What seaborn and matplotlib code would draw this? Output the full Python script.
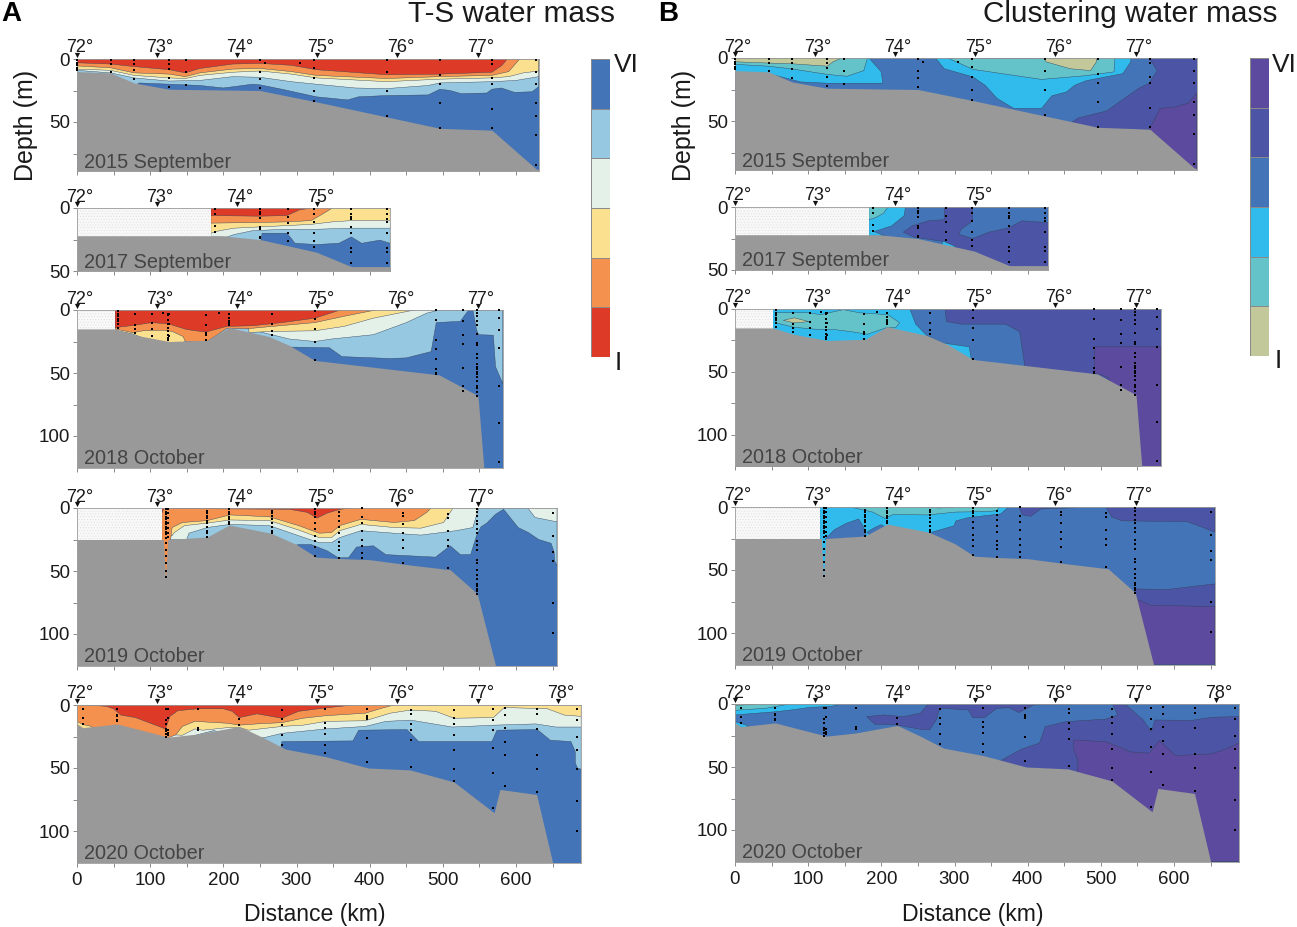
import numpy as np
import pandas as pd
import matplotlib
matplotlib.use('Agg')
import matplotlib.pyplot as plt
from matplotlib.colors import ListedColormap
import seaborn as sns

sns.set_theme(style='ticks')
plt.rcParams['font.family'] = ['Liberation Sans', 'DejaVu Sans']
plt.rcParams['hatch.linewidth'] = 0.3

W, H = 1297, 927

# -------------------------
# colours, I -> VI
# -------------------------
ts_colors = ['#DD3B28', '#F4914F', '#FBE08F', '#E4F1E8', '#96C8E2', '#4374B7']
cl_colors = ['#C2C89A', '#63C3C9', '#30BBEC', '#4374B7', '#4C55A5', '#5C4A9E']
seabed = '#999999'
class_levels = [6, 5, 4, 3, 2, 1]

lat_names = ['72°', '73°', '74°', '75°', '76°', '77°', '78°']
lat_km = [0, 109.5, 219, 328.5, 438, 547.5, 657]
months = ['2015 September', '2017 September', '2018 October', '2019 October', '2020 October']
xmax_km = [631, 428, 582, 656, 689]
ymax_m = [89, 50, 125, 125, 125]
lat_shown = [6, 4, 6, 6, 7]
no_data_km = [0, 183, 52, 116, 0]

# -------------------------
# seabed (km, m)
# -------------------------
bath15 = [(0, 10), (46, 11), (78, 19), (126, 24), (250, 25), (327, 34), (496, 55), (567, 56.5), (627, 87), (631, 88)]
bath17 = [(0, 22), (196, 22), (250, 25), (327, 35), (375, 46.5), (428, 46.5)]
bath18 = [(0, 15), (52, 15), (80, 20), (126, 25), (178, 24), (208, 14), (262, 21), (290, 28), (325, 40), (495, 51.5), (548, 68), (556, 125)]
bath19 = [(0, 25), (118, 25), (121, 56), (124, 25), (178, 23), (208, 13.5), (265, 20), (300, 29), (327, 39), (355, 40), (400, 41), (452, 45), (510, 49), (547, 68), (572, 125)]
bath20 = [(0, 15), (8, 18), (55, 15), (125, 25.5), (165, 23), (222, 17), (255, 26), (285, 35), (340, 41), (398, 50), (455, 51.5), (515, 61), (570, 85.5), (578, 67), (628, 71), (650, 125)]

# -------------------------
# CTD stations (km, depths)
# -------------------------
st15 = [(0, [1, 3, 5, 7, 9]), (46, [1, 4, 10]), (78, [1, 4, 9, 16]), (126, [1, 4, 8, 15, 22]), (149, [1, 10, 21]),
        (250, [1, 10, 16, 23]), (257, [3]), (305, [3]), (324, [1, 7, 15, 25, 33]), (423, [1, 10, 25, 45]),
        (496, [1, 13, 20, 35, 55]), (567, [1, 4, 15, 20, 40, 55]), (627, [1, 10, 20, 35, 45, 60, 84])]
st17 = [(188, [1, 5, 14, 19]), (250, [1, 3, 5, 8, 15, 17, 23, 24]), (288, [1, 7, 12, 20, 26]), (324, [1, 5, 11, 20, 26, 31]),
        (375, [1, 5, 7, 9, 15, 20, 32, 35, 44]), (423, [1, 5, 9, 11, 20, 32, 35, 44])]
st18 = [(56, [1, 3, 5, 7, 9, 11, 14]), (79, [3, 12, 15, 18]), (102, [3, 10, 15, 21]), (118, [2]),
        (124, [3, 4, 8, 11, 14, 17, 20, 22, 24]), (126, [3, 11, 21]), (176, [4, 12, 18, 20, 24]), (194, [2]),
        (208, [3, 6, 9, 10, 11, 12]), (266, [3, 11, 17, 20]), (325, [1, 7, 15, 25, 40]),
        (490, [0, 8, 24, 31, 39, 47, 50, 51]), (528, [0, 9, 20, 27, 46, 60, 64]),
        (547, [0, 2, 5, 9, 12, 19, 26, 28, 35, 38, 43, 45, 47, 49, 51, 53, 56, 60, 62, 65, 68]),
        (577, [0, 6, 16, 30, 60, 90, 121])]
st19 = [(122, [1, 3, 5, 7, 9, 11, 13, 15, 17, 19, 21, 24, 28, 33, 38, 44, 50, 55]), (124, [1, 4, 8, 12, 16, 20, 23]),
        (178, [2, 4, 6, 8, 10, 12, 15, 18, 20, 23]), (208, [1, 3, 5, 7, 9, 11, 13]), (267, [2, 4, 6, 9, 12, 15, 18, 20]),
        (325, [1, 3, 5, 7, 12, 17, 22, 26, 31, 38]), (358, [3, 6, 10, 15, 20, 27, 30, 33, 40]),
        (390, [0, 7, 12, 18, 25, 30, 36, 40]), (445, [4, 6, 13, 20, 25, 32, 44]), (507, [5, 8, 18, 25, 30, 48]),
        (547, [1, 3, 6, 10, 13, 17, 20, 26, 29, 33, 41, 44, 49, 53, 56, 60, 62, 64, 66, 68]),
        (650, [4, 22, 35, 42, 75, 99])]
st20 = [(8, [3, 10, 15]), (55, [3, 8, 9, 12, 13]), (122, [3, 12, 15, 19, 20, 21, 23, 25]), (125, [3, 10, 20, 22, 24]),
        (165, [3, 18, 20]), (222, [11, 16]), (280, [4, 11, 16, 24, 32]), (339, [3, 14, 18, 23, 32, 38]),
        (397, [3, 9, 10, 11, 26, 45]), (456, [4, 7, 15, 20, 28, 49]), (515, [4, 10, 15, 24, 36, 51, 60]),
        (569, [3, 12, 20, 34, 54, 82]), (585, [2, 8, 18, 29, 40, 64]), (628, [3, 7, 19, 40, 51, 69]),
        (684, [3, 12, 25, 36, 51, 76, 100])]

# -------------------------
# T-S water mass, lower limit of each class (km, m)
# -------------------------
ts15_v = [(0, 25), (70, 25), (85, 19), (126, 20), (168, 21), (200, 23), (240, 20), (250, 20.5), (280, 24), (327, 30), (370, 32.5), (385, 30), (423, 29), (480, 28.5), (496, 24), (510, 25), (525, 27.5), (560, 27), (567, 24), (580, 23), (598, 26.5), (622, 26), (631, 22)]
ts15_iv = [(0, 9), (46, 11), (78, 15), (126, 17.5), (168, 17), (213, 14), (250, 14.5), (293, 18), (327, 20), (380, 23), (423, 23.5), (480, 21), (496, 19), (567, 18), (600, 17), (631, 14)]
ts15_iii = [(0, 8), (46, 9), (78, 13), (126, 15), (148, 15.5), (168, 13), (213, 10.5), (250, 9.5), (293, 12), (327, 15), (423, 18), (496, 16), (567, 15), (590, 14), (610, 11), (631, 9.5)]
ts15_ii = [(0, 5.5), (46, 7), (78, 11), (126, 12), (148, 14), (168, 11), (213, 8), (250, 7.5), (293, 10), (327, 13), (423, 15.5), (496, 14), (567, 13), (590, 10), (605, 0)]
ts15_i = [(0, 3), (46, 4), (78, 6), (126, 8.5), (148, 11), (168, 7.5), (213, 4), (250, 3.5), (293, 5), (327, 8.5), (423, 12.5), (496, 12), (567, 10.5), (581, 5), (588, 0)]

ts17_v = [(183, 30), (250, 30), (253, 20), (287, 20), (298, 28), (327, 29), (358, 28), (375, 23), (389, 28), (414, 25.5), (428, 28)]
ts17_iv = [(183, 23), (205, 23), (215, 21), (240, 18), (280, 17), (320, 17), (375, 16), (428, 16)]
ts17_iii = [(183, 20), (195, 18), (215, 16), (250, 15), (320, 13), (349, 11), (375, 10), (428, 10)]
ts17_ii = [(183, 12), (250, 11.5), (287, 11), (320, 10), (335, 5), (349, 0)]
ts17_i = [(183, 6), (250, 6.5), (287, 6), (304, 1.5), (320, 0)]

ts18_v = [(52, 40), (280, 40), (290, 29.4), (345, 30), (362, 37), (428, 38.5), (450, 38), (484, 33), (491, 10), (524, 9), (532, 2.5), (536, 0), (541, 0), (546, 15.6), (549, 19.6), (569, 20), (572, 45), (582, 58.5)]
ts18_iv = [(52, 14), (230, 14), (234, 15), (262, 19), (290, 23), (325, 25), (348, 23), (405, 19.6), (450, 10), (478, 2.5), (495, 0)]
ts18_iii = [(52, 16), (76, 19), (126, 30), (148, 25), (150, 5), (234, 5), (235, 17.8), (269, 17), (325, 16.5), (365, 13), (405, 6.5), (461, 0)]
ts18_ii = [(52, 15), (76, 18), (90, 16.5), (118, 16), (130, 17), (145, 21), (148, 25), (178, 25), (205, 14.5), (230, 15), (258, 13.5), (325, 10), (365, 5), (408, 0)]
ts18_i = [(52, 14), (80, 12), (102, 10), (125, 11), (150, 15.5), (176, 17.5), (205, 13), (240, 12.5), (280, 10), (325, 6.5), (360, 0)]

ts19_v = [(116, 30), (295, 30), (303, 29), (320, 29), (342, 34), (357, 39.5), (371, 39.5), (382, 31), (405, 30), (422, 37), (490, 39), (510, 30), (524, 37), (538, 37), (546, 22), (552, 15), (560, 12), (572, 5), (583, 1), (603, 15.5), (617, 19.5), (631, 25), (648, 28), (652, 35), (653, 42), (656, 46)]
ts19_iv = [(116, 25), (150, 25), (153, 20), (178, 15.5), (209, 13), (263, 14), (303, 22), (331, 27.5), (348, 27.5), (359, 23.5), (388, 18), (433, 20), (470, 21.5), (518, 18), (541, 15.5), (549, 0), (616, 0), (626, 7.5), (656, 11)]
ts19_iii = [(116, 19), (130, 22), (133, 19.5), (147, 14), (178, 12), (209, 9.5), (263, 10), (303, 17.5), (331, 23.5), (348, 23.5), (359, 18), (388, 13), (433, 15.5), (470, 16), (501, 11.5), (510, 3.5), (514, 0)]
ts19_ii = [(116, 60), (126, 60), (128, 25), (130, 15.5), (144, 11.5), (178, 10), (209, 5.5), (263, 7), (303, 14), (331, 20), (348, 19.5), (359, 14), (388, 9), (433, 11.5), (461, 10), (478, 3.5), (484, 0)]
ts19_i = [(116, 4), (119, 0), (150, 0.5), (290, 1), (315, 3.5), (328, 8), (342, 4), (360, 1), (377, 0)]

ts20_v = [(0, 40), (255, 40), (272, 33), (278, 36), (280, 29), (377, 28.5), (385, 20), (451, 19.5), (467, 29), (567, 29), (574, 20), (629, 19.5), (647, 28), (675, 29), (681, 37), (681, 46), (684, 50), (689, 51)]
ts20_iv = [(0, 30), (160, 30), (162, 24), (172, 22.5), (187, 20.3), (222, 25), (255, 26), (280, 22.5), (340, 19), (394, 17), (422, 13), (456, 12), (513, 17.5), (570, 16), (627, 15), (655, 17.5), (689, 17.5)]
ts20_iii = [(0, 20), (144, 24), (161, 19), (172, 20), (205, 18), (222, 18), (235, 20), (280, 17), (309, 16), (340, 13), (394, 12.5), (428, 6.5), (456, 4), (490, 5), (515, 10.5), (569, 10), (584, 2), (643, 3), (666, 8), (689, 9)]
ts20_ii = [(0, 13), (8, 15.5), (20, 17), (30, 25), (125, 26), (135, 23.7), (144, 17), (161, 13), (206, 14.5), (222, 16), (246, 15), (280, 14), (309, 10.5), (340, 8.5), (394, 6.5), (417, 2.5), (433, 0)]
ts20_i = [(11, 0), (40, 1), (50, 3), (60, 8), (80, 10), (121, 19), (127, 9), (138, 4.5), (165, 3), (200, 3), (212, 5), (222, 10), (246, 7), (280, 10.5), (303, 5), (337, 2.5), (377, 0)]

# -------------------------
# Clustering water mass, closed regions (km, m)
# -------------------------
cl15_vi = [(566, 56.5), (576, 46), (581, 40), (600, 39), (619, 36), (631, 28), (631, 90), (566, 90)]
cl15_iv = [(0, 0), (566, 0), (577, 10), (566, 20), (552, 24), (525, 35), (508, 42), (469, 47.6), (458, 52), (0, 52)]
cl15_iii_a = [(0, 0), (183, 0), (200, 11), (202, 20), (176, 20), (126, 20), (90, 19), (43, 12), (0, 12)]
cl15_iii_b = [(274, 0), (286, 8.5), (325, 15), (342, 21.7), (358, 32), (381, 40), (419, 40), (433, 30), (453, 27), (464, 21.7), (480, 18), (530, 12.4), (541, 3), (541, 0)]
cl15_ii_a = [(0, 0), (181, 0), (176, 10), (153, 14.5), (126, 13), (76, 8.5), (45, 6.5), (0, 5)]
cl15_ii_b = [(291, 0), (325, 9), (419, 17), (480, 14), (518, 11), (519, 0)]
cl15_i_a = [(0, 0), (146, 0), (134, 3), (126, 6.5), (76, 4.5), (45, 4), (0, 3)]
cl15_i_b = [(325, 0.5), (422, 0), (425, 3), (458, 8.5), (486, 10), (494, 3), (494, 0)]

cl17_iv_a = [(183, 0), (286, 0), (286, 10), (264, 11), (242, 15), (230, 20), (245, 24), (281, 27), (300, 32), (300, 40), (183, 40)]
cl17_iv_b = [(324, 0), (325, 11), (309, 17.7), (306, 21.7), (325, 25), (347, 20), (375, 16.4), (392, 11), (429, 12.4), (429, 0)]
cl17_iii_a = [(183, 0), (233, 0), (231, 7), (214, 15), (190, 19.5), (205, 23), (183, 23)]
cl17_iii_b = [(284, 27), (300, 31), (300, 36), (281, 34)]
cl17_ii = [(183, 0), (209, 0), (203, 5), (192, 8.5), (183, 10)]

cl18_vi = [(491, 30), (582, 30), (582, 125), (540, 125), (540, 66), (511, 60), (511, 54.7), (500, 52), (491, 51)]
cl18_iv = [(239, 0), (287, 0), (289, 10), (309, 12), (370, 12), (389, 18), (396, 45), (396, 60), (239, 60)]
cl18_iii = [(0, 0), (239, 0), (247, 12), (262, 21), (284, 27), (320, 30), (323, 40), (323, 60), (0, 60)]
cl18_ii = [(56, 3), (101, 3), (117, 4.5), (148, 0.5), (170, 3), (209, 4.5), (225, 11), (220, 14.5), (206, 15), (181, 20), (159, 18), (137, 16.4), (109, 16), (81, 14.5), (56, 11)]
cl18_i = [(66, 9), (81, 7), (101, 10), (81, 11)]

cl19_vi = [(548, 73), (568, 78), (656, 79), (656, 125), (548, 125)]
cl19_v_a = [(546, 65), (590, 65.5), (656, 61), (656, 80), (546, 80)]
cl19_v_b = [(507, 0), (515, 8), (529, 11), (618, 11.6), (634, 15), (656, 20), (656, 0)]
cl19_v_c = [(388, 0), (393, 6.3), (404, 7.4), (418, 1.6), (468, 0.5), (468, 0)]
cl19_iii = [(116, 0), (374, 0), (363, 5.5), (319, 8.4), (302, 11), (299, 15), (269, 20), (268, 30), (116, 60)]
cl19_iv_a = [(124, 25), (136, 18), (152, 13), (169, 9.5), (175, 15), (178, 20), (180, 24), (124, 26)]
cl19_iv_b = [(180, 20), (192, 16), (200, 14), (205, 16), (190, 25)]
cl19_ii = [(158, 0), (188, 4), (205, 9), (216, 6), (263, 6.3), (302, 4), (341, 3.7), (357, 3), (362, 0)]
cl19_i = [(252, 0), (280, 0.8), (300, 0)]

cl20_vi = [(463, 28.5), (507, 30), (529, 35), (540, 38), (566, 39), (580, 29), (602, 41), (652, 39.5), (674, 35), (689, 31), (689, 125), (460, 125), (469, 45.6), (463, 36)]
cl20_v_a = [(363, 45), (391, 36), (416, 31), (424, 18), (452, 14), (507, 12), (523, 8.7), (516, 0), (533, 0), (558, 12.7), (569, 22), (574, 12.7), (624, 13), (652, 10.5), (689, 10), (689, 125), (363, 125)]
cl20_v_b = [(180, 10), (203, 8.7), (230, 10), (253, 7.4), (264, 0), (461, 0), (408, 0.8), (388, 6.8), (375, 3), (358, 3.4), (341, 10.8), (325, 11), (319, 4.7), (280, 3.4), (275, 12.7), (266, 20.5), (258, 20.5), (219, 16.5), (191, 16)]
cl20_iii_a = [(0, 0), (147, 0), (130, 2), (103, 2.6), (80, 4.5), (58, 6), (0, 8.7)]
cl20_iii_b = [(0, 14), (14, 16.5), (19, 18), (0, 20)]
cl20_ii = [(0, 0), (75, 0), (42, 3.4), (0, 5)]
cl20_i = [(0, 0), (31, 0.3), (0, 1)]

bathymetry = [bath15, bath17, bath18, bath19, bath20]
stations = [st15, st17, st18, st19, st20]
# class number, limit: drawn from the deepest class upward
ts_layers = [
    [(5, ts15_v), (4, ts15_iv), (3, ts15_iii), (2, ts15_ii), (1, ts15_i)],
    [(5, ts17_v), (4, ts17_iv), (3, ts17_iii), (2, ts17_ii), (1, ts17_i)],
    [(5, ts18_v), (4, ts18_iv), (3, ts18_iii), (2, ts18_ii), (1, ts18_i)],
    [(5, ts19_v), (4, ts19_iv), (3, ts19_iii), (2, ts19_ii), (1, ts19_i)],
    [(5, ts20_v), (4, ts20_iv), (3, ts20_iii), (2, ts20_ii), (1, ts20_i)],
]
cl_layers = [
    [(6, cl15_vi), (4, cl15_iv), (3, cl15_iii_a), (3, cl15_iii_b), (2, cl15_ii_a), (2, cl15_ii_b), (1, cl15_i_a), (1, cl15_i_b)],
    [(4, cl17_iv_a), (4, cl17_iv_b), (3, cl17_iii_a), (3, cl17_iii_b), (2, cl17_ii)],
    [(6, cl18_vi), (4, cl18_iv), (3, cl18_iii), (2, cl18_ii), (1, cl18_i)],
    [(5, cl19_v_a), (6, cl19_vi), (5, cl19_v_b), (5, cl19_v_c), (3, cl19_iii), (4, cl19_iv_a), (4, cl19_iv_b), (2, cl19_ii), (1, cl19_i)],
    [(5, cl20_v_a), (6, cl20_vi), (5, cl20_v_b), (3, cl20_iii_a), (3, cl20_iii_b), (2, cl20_ii), (1, cl20_i)],
]
cl_base = [5, 5, 5, 4, 4]

# -------------------------
# page layout in pixels
# -------------------------
PX_KM = 0.7317
PX_M = 1.26
left_x0, right_x0 = 77, 735
left_tops = [59, 208, 310, 508, 705]
right_tops = [58, 207, 309, 507, 704]

fig = plt.figure(figsize=(W / 100, H / 100), dpi=100)


def px_axes(x, y, w, h):
    return fig.add_axes([x / W, 1 - (y + h) / H, w / W, h / H])


def px_text(x, y, s, **kw):
    kw.setdefault('ha', 'center')
    kw.setdefault('va', 'center')
    kw.setdefault('color', '#1a1a1a')
    fig.text(x / W, 1 - y / H, s, **kw)


def draw_panel(x0, top, i, colors, layers, base, closed, last):
    ax = px_axes(x0, top, xmax_km[i] * PX_KM, ymax_m[i] * PX_M)
    ax.set_facecolor(colors[base - 1])
    ax.set_xlim(0, xmax_km[i])
    ax.set_ylim(ymax_m[i], 0)

    for cls, pts in layers:
        xs = [p[0] for p in pts]
        ds = [p[1] for p in pts]
        if not closed:
            xs = [xs[0]] + xs + [xs[-1]]
            ds = [0] + ds + [0]
        ax.fill(xs, ds, facecolor=colors[cls - 1], edgecolor='#33425a', linewidth=0.3)

    bath_x = [p[0] for p in bathymetry[i]]
    bath_d = [p[1] for p in bathymetry[i]]
    if no_data_km[i] > 0:
        # no data part of the section, stippled
        ax.fill_between([0, no_data_km[i]], 0, ymax_m[i], facecolor='#f8f8f8', edgecolor='#dcdcdc',
                        hatch='......', linewidth=0)
    ax.fill_between(bath_x, bath_d, ymax_m[i], color=seabed, linewidth=0, zorder=3)

    rows = [(km, d) for km, ds in stations[i] for d in ds]
    st = pd.DataFrame(rows, columns=['km', 'depth'])
    sns.scatterplot(data=st, x='km', y='depth', ax=ax, marker='s', s=3, color='black', linewidth=0,
                    legend=False, zorder=4, clip_on=False)

    # latitude marks over the section
    n = lat_shown[i]
    lat = pd.DataFrame({'km': lat_km[:n], 'depth': [-3.0] * n})
    sns.scatterplot(data=lat, x='km', y='depth', ax=ax, marker='v', s=14, color='#111111', linewidth=0,
                    legend=False, clip_on=False, zorder=5)
    for name, km in zip(lat_names[:n], lat_km[:n]):
        px_text(x0 + km * PX_KM + 3, top - 11, name, fontsize=13)

    ax.set_xticks(np.arange(0, xmax_km[i], 50))
    if last:
        ax.set_xticklabels([str(v) if v % 100 == 0 else '' for v in np.arange(0, xmax_km[i], 50)], fontsize=13.5)
    else:
        ax.set_xticklabels([])
    major = [v for v in [0, 50, 100] if v <= ymax_m[i]]
    ax.set_yticks(major)
    ax.set_yticklabels([str(v) for v in major], fontsize=13.5)
    ax.set_yticks([v for v in [25, 75] if v < ymax_m[i]], minor=True)
    ax.tick_params(axis='both', which='both', length=3, width=0.6, color='#777777', pad=2, labelcolor='#1a1a1a')
    ax.tick_params(axis='x', pad=4)
    ax.set_xlabel('')
    ax.set_ylabel('')
    for sp in ax.spines.values():
        sp.set_color('#9a9a9a')
        sp.set_linewidth(0.6)
    ax.text(10, ymax_m[i] - 9 / PX_M, months[i], fontsize=14.3, color='#444444', va='center', zorder=6)


def draw_scale(x, y, colors):
    ax = px_axes(x, y, 19, 298)
    sns.heatmap(np.array(class_levels).reshape(-1, 1), ax=ax, cmap=ListedColormap(colors), cbar=False,
                xticklabels=False, yticklabels=False, linewidths=0.4, linecolor='#8a8a8a', vmin=1, vmax=6)


for i in range(5):
    draw_panel(left_x0, left_tops[i], i, ts_colors, ts_layers[i], 6, False, i == 4)
    draw_panel(right_x0, right_tops[i], i, cl_colors, cl_layers[i], cl_base[i], True, i == 4)

draw_scale(591, 59, ts_colors)
draw_scale(1250, 58, cl_colors)

px_text(11, 14, 'A', fontsize=20, fontweight='bold', color='black')
px_text(668, 14, 'B', fontsize=20, fontweight='bold', color='black')
px_text(511.5, 14, 'T-S water mass', fontsize=21.4)
px_text(1130.5, 14, 'Clustering water mass', fontsize=21.4)
px_text(26, 125, 'Depth (m)', fontsize=18, rotation=90)
px_text(684, 125, 'Depth (m)', fontsize=18, rotation=90)
px_text(315, 914, 'Distance (km)', fontsize=16.6)
px_text(973, 914, 'Distance (km)', fontsize=16.6)
px_text(626, 65, 'VI', fontsize=19)
px_text(618, 363, 'I', fontsize=19)
px_text(1284, 65, 'VI', fontsize=19)
px_text(1278, 361, 'I', fontsize=19)

fig.savefig('out.png', dpi=100)
